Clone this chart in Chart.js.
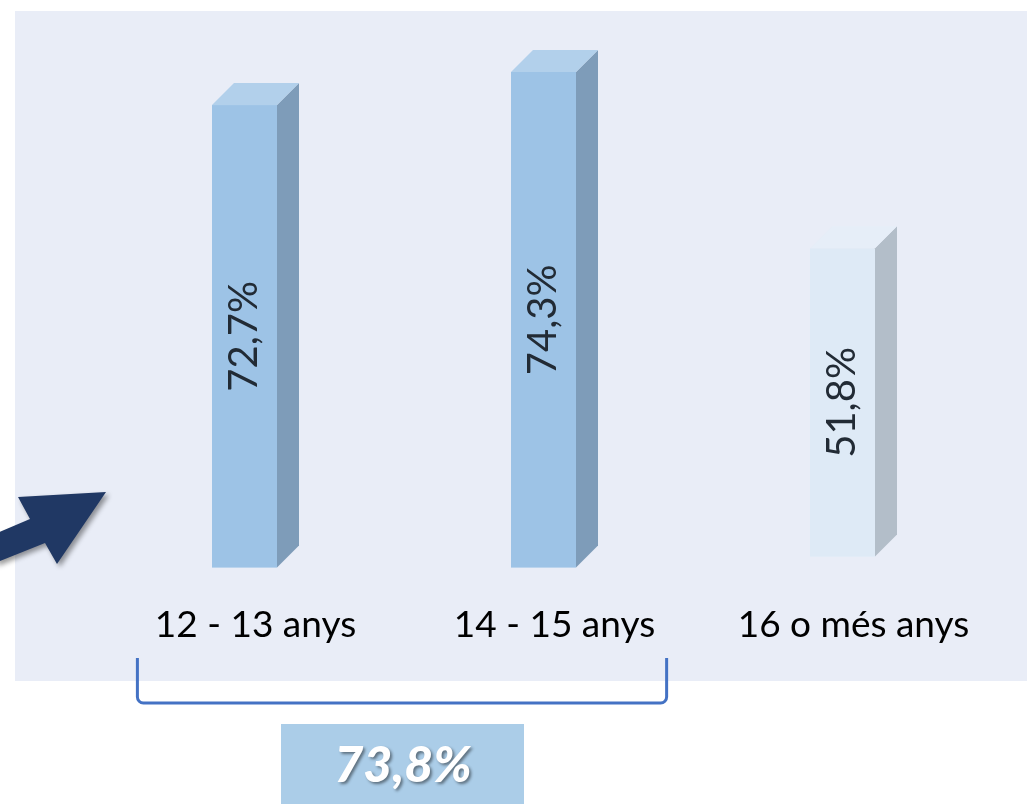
<!DOCTYPE html>
<html>
<head>
<meta charset="utf-8">
<script src="https://cdn.jsdelivr.net/npm/chart.js@4/dist/chart.umd.min.js"></script>
<style>
  html, body { margin: 0; padding: 0; background: #ffffff; }
  #wrap { width: 1027px; height: 804px; position: relative; }
</style>
</head>
<body>
<div id="wrap"><canvas id="myChart"></canvas></div>
<script>
// Data
const categories = ['12 - 13 anys', '14 - 15 anys', '16 o més anys'];
const values = [72.7, 74.3, 51.8];
const inBracket = [true, true, false];   // the first two groups are summarised below
const summaryValue = 73.8;

const fmt = v => v.toFixed(1).replace('.', ',') + '%';

// 3D look
const DEPTH = 22;
const blueFaces = { front: '#9DC3E6', side: '#7E9CB9', top: '#B2D0EB' };
const paleFaces = { front: '#DEEAF6', side: '#B3BEC9', top: '#E6EEF8' };

const bracketData = values.map((v, i) => inBracket[i] ? v : null);
const otherData = values.map((v, i) => inBracket[i] ? null : v);

// background panel, 3d faces, labels inside the bars
const decor = {
  id: 'decor',
  beforeDraw(chart) {
    const ctx = chart.ctx;
    ctx.save();
    ctx.fillStyle = '#E9EDF7';
    ctx.fillRect(15, 11, chart.width - 15, 670);
    ctx.restore();
  },
  afterDatasetsDraw(chart) {
    const ctx = chart.ctx;
    chart.data.datasets.forEach((ds, di) => {
      const faces = di === 0 ? blueFaces : paleFaces;
      chart.getDatasetMeta(di).data.forEach((bar, i) => {
        if (ds.data[i] == null) return;
        const fl = bar.x - bar.width / 2;
        const fr = bar.x + bar.width / 2 - DEPTH;
        const top = bar.y;
        const bot = Math.min(bar.base, chart.chartArea.bottom);
        ctx.save();
        ctx.fillStyle = faces.front;
        ctx.fillRect(fl, top, fr - fl, bot - top);
        ctx.fillStyle = faces.side;
        ctx.beginPath();
        ctx.moveTo(fr, top); ctx.lineTo(fr + DEPTH, top - DEPTH);
        ctx.lineTo(fr + DEPTH, bot - DEPTH); ctx.lineTo(fr, bot);
        ctx.closePath(); ctx.fill();
        ctx.fillStyle = faces.top;
        ctx.beginPath();
        ctx.moveTo(fl, top); ctx.lineTo(fl + DEPTH, top - DEPTH);
        ctx.lineTo(fr + DEPTH, top - DEPTH); ctx.lineTo(fr, top);
        ctx.closePath(); ctx.fill();
        // value, rotated
        ctx.translate((fl + fr) / 2, (top + bot) / 2);
        ctx.rotate(-Math.PI / 2);
        ctx.fillStyle = '#222B35';
        ctx.font = '40px Lato';
        ctx.textAlign = 'center';
        ctx.textBaseline = 'middle';
        ctx.fillText(fmt(ds.data[i]), 0, 0);
        ctx.restore();
      });
    });
  },
  afterDraw(chart) {
    const ctx = chart.ctx;
    const xs = chart.scales.x;
    // bracket under the bracketed groups
    const idx = inBracket.map((b, i) => b ? i : -1).filter(i => i >= 0);
    const half = xs.width / categories.length;
    const bl = xs.getPixelForValue(idx[0]) - half * 0.395;
    const br = xs.getPixelForValue(idx[idx.length - 1]) + half * 0.375;
    ctx.save();
    ctx.strokeStyle = '#4472C4';
    ctx.lineWidth = 3;
    ctx.beginPath();
    ctx.moveTo(bl, 658);
    ctx.arcTo(bl, 703, bl + 6, 703, 6);
    ctx.arcTo(br, 703, br, 658, 6);
    ctx.lineTo(br, 658);
    ctx.stroke();

    // summary box
    ctx.fillStyle = '#ABCDE8';
    ctx.fillRect(281, 724, 243, 80);
    ctx.font = 'italic 900 50px Lato';
    ctx.textAlign = 'center';
    ctx.textBaseline = 'middle';
    ctx.shadowColor = 'rgba(0,0,0,0.45)';
    ctx.shadowBlur = 3;
    ctx.shadowOffsetX = 2;
    ctx.shadowOffsetY = 2;
    ctx.fillStyle = '#FFFFFF';
    ctx.fillText(fmt(summaryValue), 403, 766);
    ctx.restore();

    // arrow
    ctx.save();
    ctx.shadowColor = 'rgba(0,0,0,0.4)';
    ctx.shadowBlur = 5;
    ctx.shadowOffsetX = 3;
    ctx.shadowOffsetY = 3;
    ctx.fillStyle = '#203864';
    ctx.beginPath();
    ctx.moveTo(-5, 534);
    ctx.lineTo(30, 519);
    ctx.lineTo(18, 497);
    ctx.lineTo(106, 492);
    ctx.lineTo(57, 564);
    ctx.lineTo(45, 543);
    ctx.lineTo(-5, 563);
    ctx.closePath();
    ctx.fill();
    ctx.restore();
  }
};

function renderChart() {
  const ctx = document.querySelector('#myChart').getContext('2d');
  new Chart(ctx, {
    type: 'bar',
    data: {
      labels: categories,
      datasets: [
        { data: bracketData, yAxisID: 'y', backgroundColor: 'rgba(0,0,0,0)', grouped: false },
        { data: otherData, yAxisID: 'y2', backgroundColor: 'rgba(0,0,0,0)', grouped: false }
      ]
    },
    options: {
      responsive: true,
      maintainAspectRatio: false,
      animation: false,
      layout: { padding: { left: 106, right: 24, top: 40, bottom: 122 } },
      categoryPercentage: 1,
      barPercentage: 0.291,
      plugins: { legend: { display: false }, tooltip: { enabled: false } },
      scales: {
        x: {
          grid: { display: false, drawTicks: false },
          border: { display: false },
          ticks: { color: '#000000', font: { family: 'Lato', size: 37 }, padding: 35 }
        },
        y: { display: false, min: 50.3, max: 75.85 },
        y2: { display: false, min: -1.85, max: 86.78 }
      }
    },
    plugins: [decor]
  });
}

renderChart();
</script>
</body>
</html>
